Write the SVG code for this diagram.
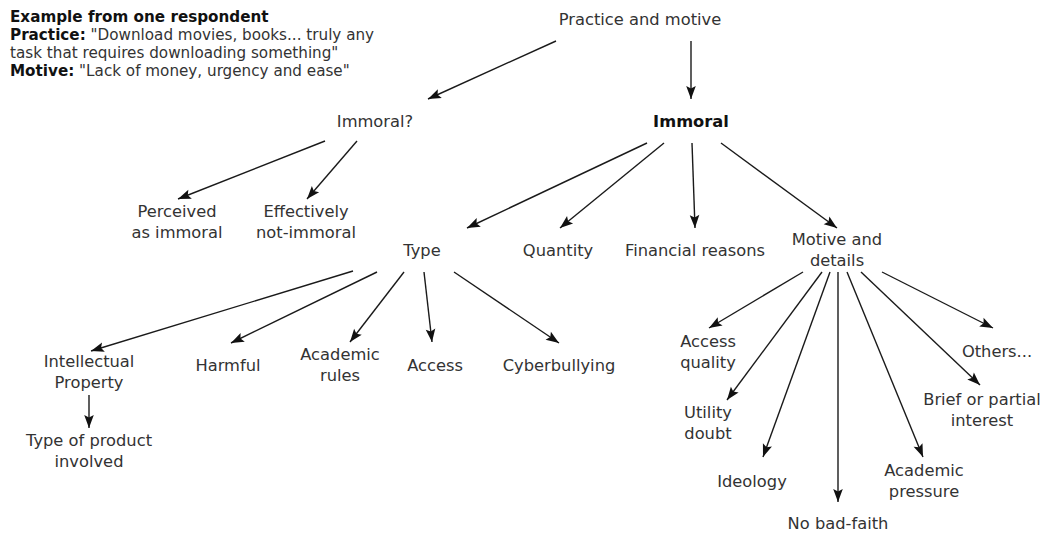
<svg xmlns="http://www.w3.org/2000/svg" width="1042" height="534" viewBox="0 0 1042 534">
  <style>
    .lbl { font-family: "DejaVu Sans", Verdana, sans-serif; font-size: 16.3px; fill: #333333; text-anchor: middle; }
    .bold { font-weight: bold; fill: #111111; }
    .note { font-family: "DejaVu Sans", Verdana, sans-serif; font-size: 15.2px; fill: #333333; }
    .edge { stroke: #1a1a1a; stroke-width: 1.4; fill: none; marker-end: url(#arrow); }
  </style>
  <defs>
    <marker id="arrow" markerUnits="userSpaceOnUse" markerWidth="15" markerHeight="12" viewBox="0 0 15 12" refX="14" refY="6" orient="auto">
      <path d="M1,1.2 L14,6 L1,10.8 L3.5,6 z" fill="#111111"/>
    </marker>
  </defs>
  <rect width="1042" height="534" fill="#ffffff"/>

  <!-- example note -->
  <g id="example">
    <text class="note" x="10" y="22"><tspan class="bold">Example from one respondent</tspan></text>
    <text class="note" x="10" y="40"><tspan class="bold">Practice:</tspan> "Download movies, books... truly any</text>
    <text class="note" x="10" y="58">task that requires downloading something"</text>
    <text class="note" x="10" y="76"><tspan class="bold">Motive:</tspan> "Lack of money, urgency and ease"</text>
  </g>

  <!-- connectors -->
  <g id="connectors">
    <line class="edge" x1="556" y1="41" x2="428" y2="99"/>
    <line class="edge" x1="691" y1="41" x2="691" y2="99"/>

    <line class="edge" x1="325" y1="141" x2="178" y2="199"/>
    <line class="edge" x1="357" y1="141" x2="307" y2="199"/>

    <line class="edge" x1="647" y1="143" x2="467" y2="228"/>
    <line class="edge" x1="664" y1="143" x2="560" y2="228"/>
    <line class="edge" x1="692" y1="143" x2="695" y2="228"/>
    <line class="edge" x1="721" y1="143" x2="837" y2="228"/>

    <line class="edge" x1="353" y1="271" x2="91" y2="351"/>
    <line class="edge" x1="377" y1="272" x2="231" y2="343"/>
    <line class="edge" x1="404" y1="272" x2="350" y2="342"/>
    <line class="edge" x1="424" y1="272" x2="432" y2="342"/>
    <line class="edge" x1="454" y1="272" x2="559" y2="343"/>

    <line class="edge" x1="89" y1="395" x2="89" y2="428"/>

    <line class="edge" x1="803" y1="272" x2="709" y2="328"/>
    <line class="edge" x1="822" y1="272" x2="727" y2="400"/>
    <line class="edge" x1="830" y1="272" x2="763" y2="457"/>
    <line class="edge" x1="838" y1="272" x2="838" y2="502"/>
    <line class="edge" x1="847" y1="272" x2="923" y2="457"/>
    <line class="edge" x1="861" y1="272" x2="980" y2="385"/>
    <line class="edge" x1="882" y1="272" x2="993" y2="328"/>
  </g>

  <!-- nodes -->
  <g id="practice-motive"><text class="lbl" x="640" y="25">Practice and motive</text></g>
  <g id="immoral-q"><text class="lbl" x="375" y="127">Immoral?</text></g>
  <g id="immoral"><text class="lbl bold" x="691" y="127">Immoral</text></g>

  <g id="perceived"><text class="lbl" x="177" y="217">Perceived<tspan x="177" dy="21">as immoral</tspan></text></g>
  <g id="effectively"><text class="lbl" x="306" y="217">Effectively<tspan x="306" dy="21">not-immoral</tspan></text></g>

  <g id="type"><text class="lbl" x="422" y="256">Type</text></g>
  <g id="quantity"><text class="lbl" x="558" y="256">Quantity</text></g>
  <g id="financial"><text class="lbl" x="695" y="256">Financial reasons</text></g>
  <g id="motive-details"><text class="lbl" x="837" y="245">Motive and<tspan x="837" dy="21">details</tspan></text></g>

  <g id="intellectual"><text class="lbl" x="89" y="367">Intellectual<tspan x="89" dy="21">Property</tspan></text></g>
  <g id="harmful"><text class="lbl" x="228" y="371">Harmful</text></g>
  <g id="academic-rules"><text class="lbl" x="340" y="360">Academic<tspan x="340" dy="21">rules</tspan></text></g>
  <g id="access"><text class="lbl" x="435" y="371">Access</text></g>
  <g id="cyberbullying"><text class="lbl" x="559" y="371">Cyberbullying</text></g>

  <g id="product-type"><text class="lbl" x="89" y="446">Type of product<tspan x="89" dy="21">involved</tspan></text></g>

  <g id="access-quality"><text class="lbl" x="708" y="347">Access<tspan x="708" dy="21">quality</tspan></text></g>
  <g id="utility-doubt"><text class="lbl" x="708" y="418">Utility<tspan x="708" dy="21">doubt</tspan></text></g>
  <g id="ideology"><text class="lbl" x="752" y="487">Ideology</text></g>
  <g id="no-bad-faith"><text class="lbl" x="838" y="529">No bad-faith</text></g>
  <g id="academic-pressure"><text class="lbl" x="924" y="476">Academic<tspan x="924" dy="21">pressure</tspan></text></g>
  <g id="brief-interest"><text class="lbl" x="982" y="405">Brief or partial<tspan x="982" dy="21">interest</tspan></text></g>
  <g id="others"><text class="lbl" x="997" y="357">Others...</text></g>
</svg>
